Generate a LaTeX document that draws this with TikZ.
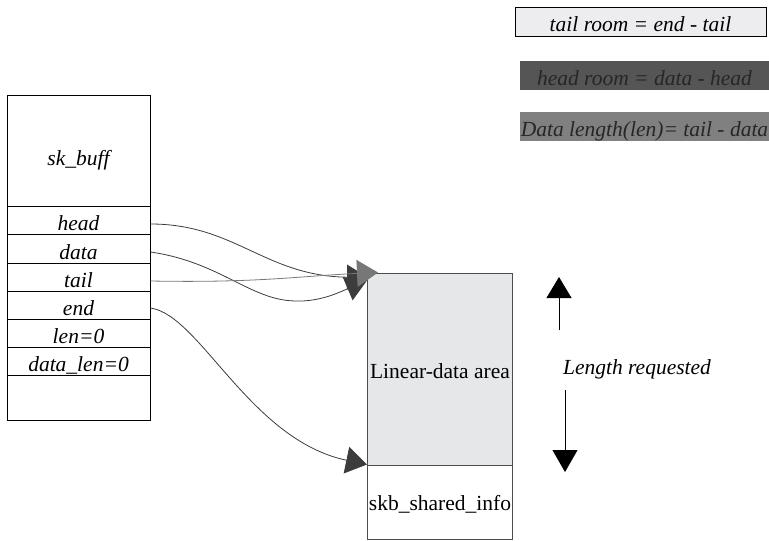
\documentclass[tikz,border=0pt]{standalone}
\usepackage{fontspec}
\setmainfont{Liberation Serif}
\usetikzlibrary{arrows.meta}
\definecolor{lgray}{HTML}{E6E7E9}
\definecolor{legA}{HTML}{EDEDEF}
\definecolor{legB}{HTML}{555555}
\definecolor{legC}{HTML}{808080}
\definecolor{lineA}{HTML}{1E1E1E}
\definecolor{lineB}{HTML}{6A6A6A}
\definecolor{lineC}{HTML}{7A7A7A}
\definecolor{lineD}{HTML}{3A3A3A}
\definecolor{tipGray}{HTML}{777777}
\definecolor{tipDark}{HTML}{3C3C3C}
\begin{document}
\begin{tikzpicture}[x=1pt,y=-1pt,
  font=\fontsize{21.5}{24}\selectfont,
  cell/.style={draw=black, line width=1pt, minimum width=143pt, inner sep=0pt, anchor=center,
    text height=20pt, text depth=0pt, font=\fontsize{21.5}{24}\selectfont\itshape},
  area/.style={draw=black!70, line width=1pt, minimum width=145pt, inner sep=0pt, text depth=0pt},
  legend/.style={minimum height=29pt, inner sep=0pt, text height=19pt, text depth=0pt,
    font=\fontsize{21.5}{24}\selectfont\itshape},
  conn/.style={line width=0.8pt}
]
\useasboundingbox (0,0) rectangle (769,541);

% sk_buff structure
\node[cell, minimum height=111pt, text height=29pt] (top) at (78.5,150.5) {sk\_buff};
\node[cell, minimum height=28pt] (head) at (78.5,220) {head};
\node[cell, minimum height=29pt, text height=21pt] (data) at (78.5,248.5) {data};
\node[cell, minimum height=28pt] (tail) at (78.5,277) {tail};
\node[cell, minimum height=28pt] (end) at (78.5,305) {end};
\node[cell, minimum height=28pt] (len) at (78.5,333) {len=0};
\node[cell, minimum height=28pt] (dlen) at (78.5,361) {data\_len=0};
\node[cell, minimum height=45pt] (empty) at (78.5,397.5) {};

% linear data area
\node[area, fill=lgray, minimum height=192pt, text height=18pt] (lin) at (440,369) {Linear-data area};
\node[area, fill=white, minimum height=74pt, text height=17pt] (shared) at (440,502) {skb\_shared\_info};

% arrow targets
\coordinate (tipG) at ([xshift=11pt]lin.north west);
\coordinate (tipD1) at ([xshift=1pt,yshift=-5pt]lin.north west);
\coordinate (tipD2) at ([xshift=0pt,yshift=-8pt]lin.north west);
\coordinate (tipE) at (shared.north west);

% connectors
\draw[conn, draw=lineA, -{Triangle[length=21pt,width=25pt]}, tipDark]
  ([yshift=-4pt]head.east) .. controls (235,224) and (265,276) .. (tipD1);
\draw[conn, draw=lineB, -{Triangle[length=21pt,width=25pt]}, tipDark]
  ([yshift=-3.5pt]data.east) .. controls (220,262) and (250,300) .. (295,301)
  .. controls (320,302) and (340,292) .. (tipD2);
\draw[conn, draw=lineC, -{Triangle[length=21pt,width=27pt]}, tipGray]
  ([yshift=-4pt]tail.east) .. controls (260,283) and (300,276) .. (tipG);
\draw[conn, draw=lineD, -{Triangle[length=21pt,width=27pt]}, tipDark]
  ([yshift=-3pt]end.east) .. controls (200,315) and (250,440) .. (tipE);

% length requested
\coordinate (upS) at (559,330);
\coordinate (upE) at (559,277);
\coordinate (dnS) at (565,390);
\coordinate (dnE) at (565,472);
\draw[line width=0.8pt, -{Triangle[length=21pt,width=25pt]}] (upS) -- (upE);
\draw[line width=0.8pt, -{Triangle[length=22pt,width=25pt]}] (dnS) -- (dnE);
\node[font=\fontsize{21.5}{24}\selectfont\itshape, inner sep=0pt, text height=12pt, text depth=0pt] (lenreq) at (637,368) {Length requested};

% legend
\node[legend, draw=black, line width=1pt, fill=legA, minimum width=251pt] (legtail) at (640.5,21.5) {tail room = end - tail};
\node[legend, fill=legB, text=black!85, minimum width=249pt] (leghead) at (644.5,75.5) {head room = data - head};
\node[legend, fill=legC, text=black!85, minimum width=249pt, text height=20pt] (legdata) at (644.5,126.5) {Data length(len)= tail - data};
\end{tikzpicture}
\end{document}
